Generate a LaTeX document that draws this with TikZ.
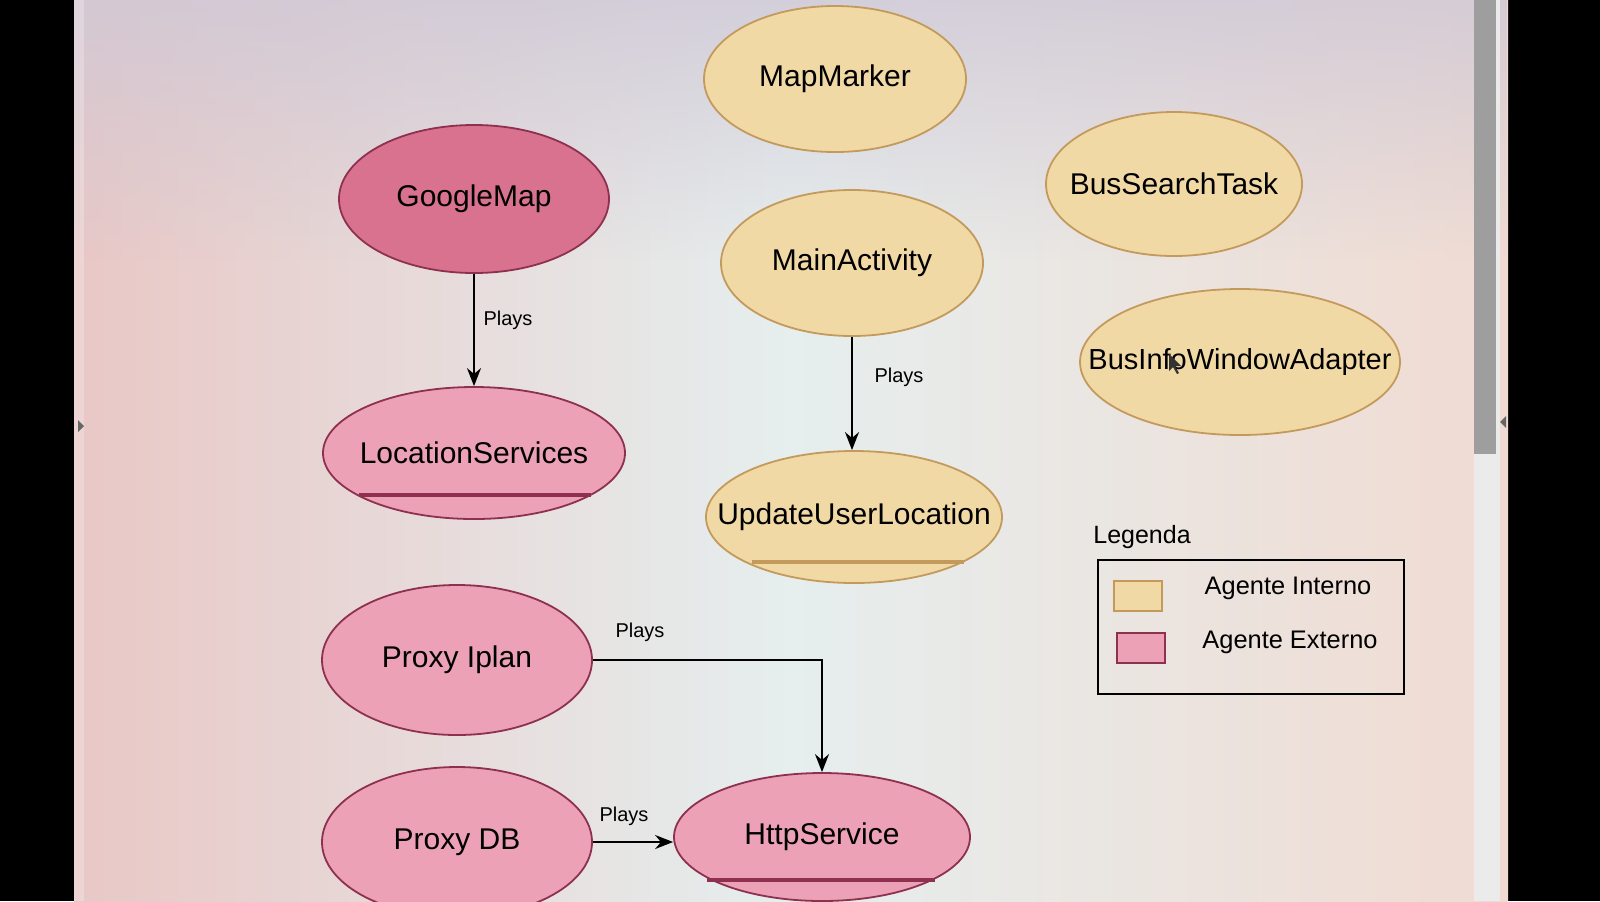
\documentclass[tikz,border=0pt]{standalone}
\usepackage{fontspec}
\setmainfont{Liberation Sans}
\usetikzlibrary{shapes.geometric,arrows.meta,calc,fadings}
\definecolor{intfill}{HTML}{F1D9A6}
\definecolor{intdraw}{HTML}{C49A5C}
\definecolor{extfill}{HTML}{ECA1B6}
\definecolor{extdark}{HTML}{D9728F}
\definecolor{extdraw}{HTML}{8E3050}
\definecolor{bgleft}{HTML}{E8C8C6}
\definecolor{bgmid}{HTML}{E6EEEE}
\definecolor{bgright}{HTML}{F0DBD2}
\definecolor{bgtop}{HTML}{CFC8D6}
\newcommand{\ztext}[1]{\makebox[0pt]{#1}}
\tikzset{
  agent/.style={ellipse,inner sep=0pt,line width=0.9pt,font=\fontsize{15}{18}\selectfont},
  interno/.style={agent,fill=intfill,draw=intdraw},
  externo/.style={agent,fill=extfill,draw=extdraw},
  plays/.style={font=\fontsize{10}{12}\selectfont},
  rel/.style={line width=1pt,-{Stealth[length=9pt,width=7pt]}},
  uline/.style={line width=1.6pt},
}
\begin{document}
\begin{tikzpicture}[x=0.5pt,y=-0.5pt]
\useasboundingbox (0,0) rectangle (1600,901);
\clip (0,0) rectangle (1600,901);
% bezel and screen
\fill[black] (0,0) rectangle (1600,901);
\shade[left color=bgleft,right color=bgright,middle color=bgmid] (74,0) rectangle (1508,901);
\fill[bgtop,opacity=0.8,path fading=south] (74,0) rectangle (1508,260);
\fill[white,opacity=0.25] (74,0) rectangle (84,901);
% scrollbar
\fill[black!8] (1474,0) rectangle (1500,901);
\fill[black!38] (1474,0) rectangle (1496,454);
\fill[black!60] (78,420) -- (84,426) -- (78,432) -- cycle;
\fill[black!60] (1506,416) -- (1500,422) -- (1506,428) -- cycle;

% nodes
\node[interno,minimum width=131pt,minimum height=73pt] (mm) at (835,79) {\ztext{MapMarker}};
\node[externo,fill=extdark,minimum width=135pt,minimum height=74pt] (gm) at (474,199) {\ztext{GoogleMap}};
\node[interno,minimum width=128pt,minimum height=72pt] (bst) at (1174,184) {\ztext{BusSearchTask}};
\node[interno,minimum width=131pt,minimum height=73pt] (ma) at (852,263) {\ztext{MainActivity}};
\node[interno,minimum width=160pt,minimum height=73pt,font=\fontsize{14.5}{17}\selectfont] (biwa) at (1240,362) {\ztext{BusInfoWindowAdapter}};
\node[externo,minimum width=151pt,minimum height=66pt] (ls) at (474,453) {\ztext{LocationServices}};
\node[interno,minimum width=148pt,minimum height=66pt] (uul) at (854,517) {\ztext{UpdateUserLocation}};
\node[externo,minimum width=135pt,minimum height=75pt] (pi) at (457,660) {\ztext{Proxy Iplan}};
\node[externo,minimum width=135pt,minimum height=75pt] (pdb) at (457,842) {\ztext{Proxy DB}};
\node[externo,minimum width=148pt,minimum height=64pt] (hs) at (822,837) {\ztext{HttpService}};

% underlines
\draw[uline,extdraw] ($(ls.center)+(-115,42)$) -- ($(ls.center)+(117,42)$);
\draw[uline,intdraw] ($(uul.center)+(-102,45)$) -- ($(uul.center)+(110,45)$);
\draw[uline,extdraw] ($(hs.center)+(-115,43)$) -- ($(hs.center)+(113,43)$);

% cursor
\fill[black!80] ($(biwa.center)+(-71,-8)$) -- ++(0,17) -- ++(4,-4) -- ++(4,7) -- ++(2,-1) -- ++(-4,-7) -- ++(6,0) -- cycle;

% connectors
\draw[rel] (gm.south) -- (gm.south |- ls.north);
\node[plays] (l1) at (508,320) {Plays};
\draw[rel] (ma.south) -- (ma.south |- uul.north);
\node[plays] (l2) at (899,377) {Plays};
\draw[rel] (pi.east) -| (hs.north);
\node[plays] (l3) at (640,632) {Plays};
\draw[rel] (pdb.east) -- (pdb.east -| hs.west);
\node[plays] (l4) at (624,816) {Plays};

% legend
\node[font=\fontsize{12.5}{15}\selectfont] (leg) at (1142,537) {Legenda};
\node[draw=black,line width=1.3pt,minimum width=153pt,minimum height=67pt,inner sep=0pt] (box) at (1251,627) {};
\node[fill=intfill,draw=intdraw,line width=1pt,minimum width=24pt,minimum height=15pt,inner sep=0pt] (sw1) at (1138,596) {};
\node[fill=extfill,draw=extdraw,line width=1pt,minimum width=24pt,minimum height=15pt,inner sep=0pt] (sw2) at (1141,648) {};
\node[font=\fontsize{12.7}{15}\selectfont] (t1) at (1288,588) {Agente Interno};
\node[font=\fontsize{12.7}{15}\selectfont] (t2) at (1290,642) {Agente Externo};
\end{tikzpicture}
\end{document}
